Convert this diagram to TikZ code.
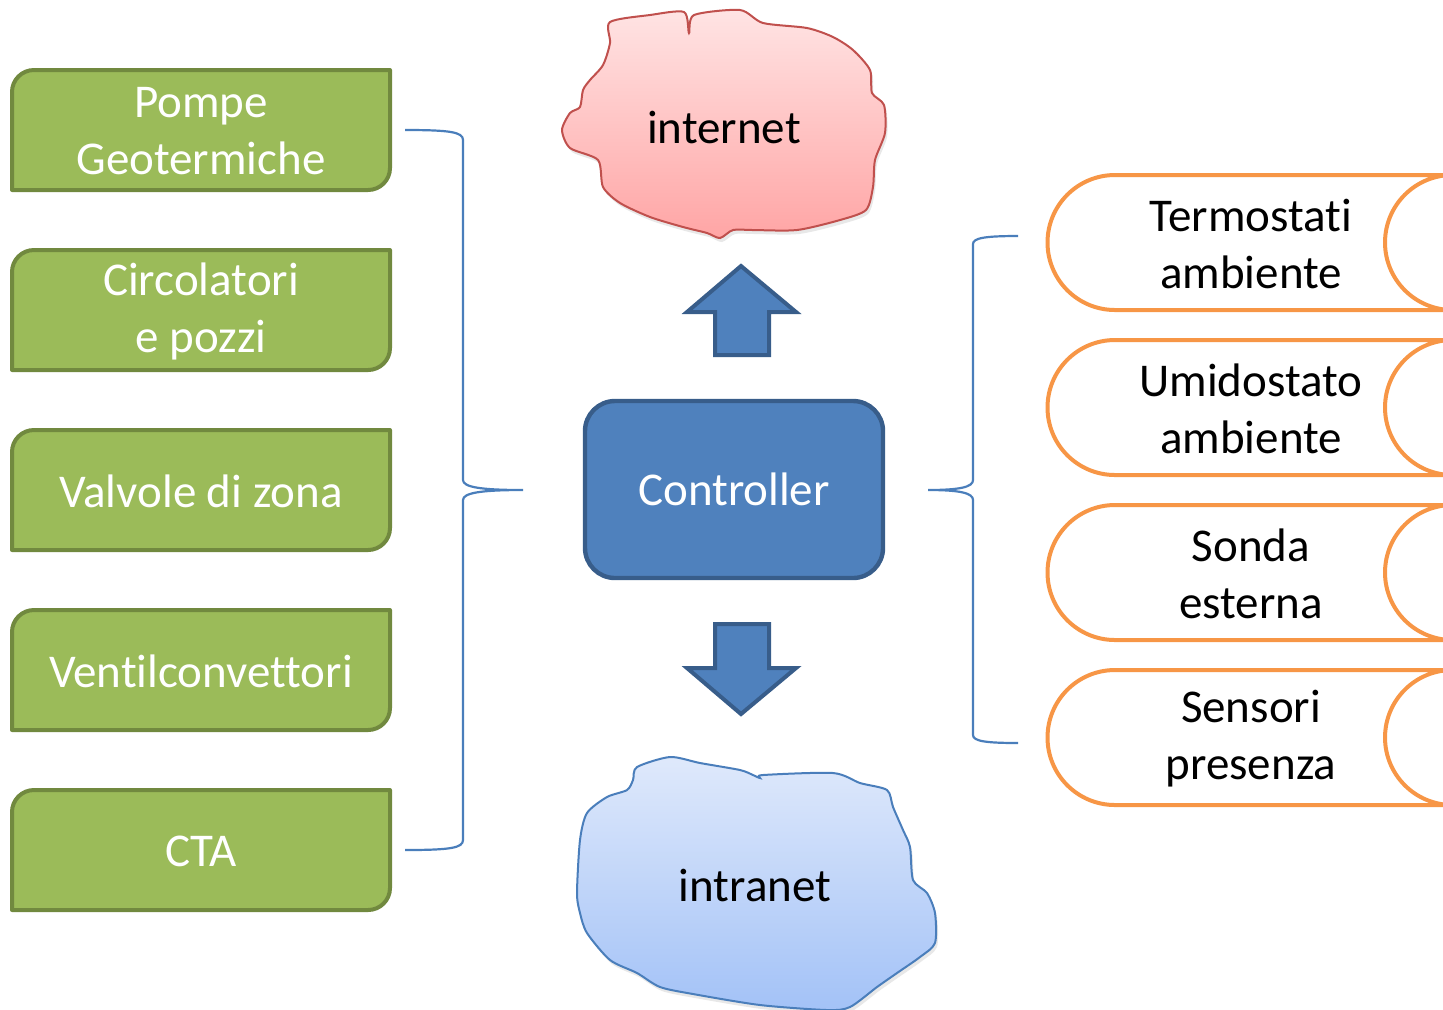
\documentclass[tikz,border=0pt]{standalone}
\usepackage{fontspec}
\setmainfont{Carlito}[Ligatures={NoCommon}]
\usetikzlibrary{shadows}
\definecolor{gfill}{HTML}{9BBB59}
\definecolor{gline}{HTML}{71893F}
\definecolor{bfill}{HTML}{4F81BD}
\definecolor{bline}{HTML}{385D8A}
\definecolor{oline}{HTML}{F79646}
\definecolor{brace}{HTML}{4A7EBB}
\definecolor{rline}{HTML}{C0504D}
\definecolor{rtop}{HTML}{FFE4E4}
\definecolor{rbot}{HTML}{FFA5A5}
\definecolor{ctop}{HTML}{DFE9FB}
\definecolor{cbot}{HTML}{A3C2F7}
\newcommand\greenbox[3]{%
  \draw[gshape] (12,#2+120) -- (12,#2+22) .. controls (12,#2+9.85) and (21.85,#2) .. (34,#2) -- (390,#2) -- (390,#2+98) .. controls (390,#2+110.15) and (380.15,#2+120) .. (368,#2+120) -- cycle;
  \node[gtext] (#1) at (201,#2+61) {#3};}
\newcommand\orangebox[3]{%
  \draw[oshape] (1115,#2) -- (1452.5,#2) .. controls (1415.2,#2) and (1385,#2+30.2) .. (1385,#2+67.5) .. controls (1385,#2+104.8) and (1415.2,#2+135) .. (1452.5,#2+135) -- (1115,#2+135) .. controls (1077.7,#2+135) and (1047.5,#2+104.8) .. (1047.5,#2+67.5) .. controls (1047.5,#2+30.2) and (1077.7,#2) .. (1115,#2) -- cycle;
  \node[otext] (#1) at (1251,#2+69) {#3};}
\begin{document}
\begin{tikzpicture}[x=0.5pt,y=-0.5pt,
  every node/.style={font=\fontsize{23.5}{28.5}\selectfont, align=center, inner sep=0pt},
  gshape/.style={fill=gfill, draw=gline, line width=2pt, line join=round},
  gtext/.style={text=white},
  oshape/.style={fill=white, draw=oline, line width=2pt},
  otext/.style={text=black},
  arrowst/.style={fill=bfill, draw=bline, line width=2pt, line join=miter},
  bracest/.style={draw=brace, line width=1.1pt},
  ctrl/.style={fill=bfill, draw=bline, line width=2.2pt, rounded corners=15pt, minimum width=149pt, minimum height=88.5pt, text=white},
  cloudsh/.style={drop shadow={opacity=0.18, shadow xshift=1pt, shadow yshift=-2pt}}
]
\useasboundingbox (0,0) rectangle (1443,1009);

% green boxes
\greenbox{pg}{70}{Pompe\\Geotermiche}
\greenbox{cp}{250}{Circolatori\\e pozzi}
\greenbox{vz}{430}{Valvole di zona}
\greenbox{vc}{610}{Ventilconvettori}
\greenbox{cta}{790}{CTA}

% orange boxes
\orangebox{ta}{175}{Termostati\\ambiente}
\orangebox{ua}{340}{Umidostato\\ambiente}
\orangebox{se}{505}{Sonda\\esterna}
\orangebox{sp}{670}{Sensori\\presenza}

% controller
\node[ctrl] (ctrl) at (734,489.5) {Controller};

% arrows
\draw[arrowst] (741,266) -- (796,312) -- (769,312) -- (769,355) -- (715,355) -- (715,312) -- (687,312) -- cycle;
\draw[arrowst] (715,624) -- (769,624) -- (769,668) -- (796,668) -- (741,714) -- (687,668) -- (715,668) -- cycle;

% internet cloud
\path[cloudsh, top color=rtop, bottom color=rbot, draw=rline, line width=1pt]
  plot[smooth cycle, tension=0.45] coordinates {
  (610,22) (650,15) (684,12) (689,33) (694,15) (740,10) (763,23) (807,28) (833,37) (853,50)
  (870,70) (872,93) (884,105) (885,133) (875,160) (873,187) (866,210) (840,220) (797,230)
  (753,230) (733,230) (720,238) (707,233) (683,227) (650,217) (620,203) (603,187) (598,160)
  (570,148) (562,130) (570,113) (580,107) (583,90) (590,80) (603,65) (610,43)};
\node (inet) at (724,127) {internet};

% intranet cloud
\path[cloudsh, top color=ctop, bottom color=cbot, draw=brace, line width=1pt]
  plot[smooth cycle, tension=0.45] coordinates {
  (637,767) (670,757) (700,763) (740,770) (753,775) (760,778) (763,775) (833,773) (860,783)
  (887,790) (893,807) (903,830) (910,847) (913,880) (927,893) (935,913) (935,943) (920,957)
  (897,973) (877,987) (850,1007) (827,1010) (760,1005) (693,994) (660,987) (637,973) (610,960)
  (587,933) (580,913) (577,893) (580,840) (587,813) (607,797) (627,790) (633,780)};
\node (inet2) at (755,885) {intranet};

% left brace
\coordinate (lt) at (405,130);
\coordinate (ltip) at (523,490);
\coordinate (lb) at (405,850);
\draw[bracest] (lt) .. controls (450,130) and (463,132) .. (463,140) -- (463,480)
  .. controls (463,487) and (480,490) .. (ltip)
  .. controls (480,490) and (463,493) .. (463,500) -- (463,840)
  .. controls (463,848) and (450,850) .. (lb);

% right brace
\coordinate (rt) at (1018,236);
\coordinate (rtip) at (928,490);
\coordinate (rb) at (1018,743);
\draw[bracest] (rt) .. controls (985,236) and (973,238) .. (973,244) -- (973,480)
  .. controls (973,487) and (960,490) .. (rtip)
  .. controls (960,490) and (973,493) .. (973,500) -- (973,735)
  .. controls (973,741) and (985,743) .. (rb);
\end{tikzpicture}
\end{document}
